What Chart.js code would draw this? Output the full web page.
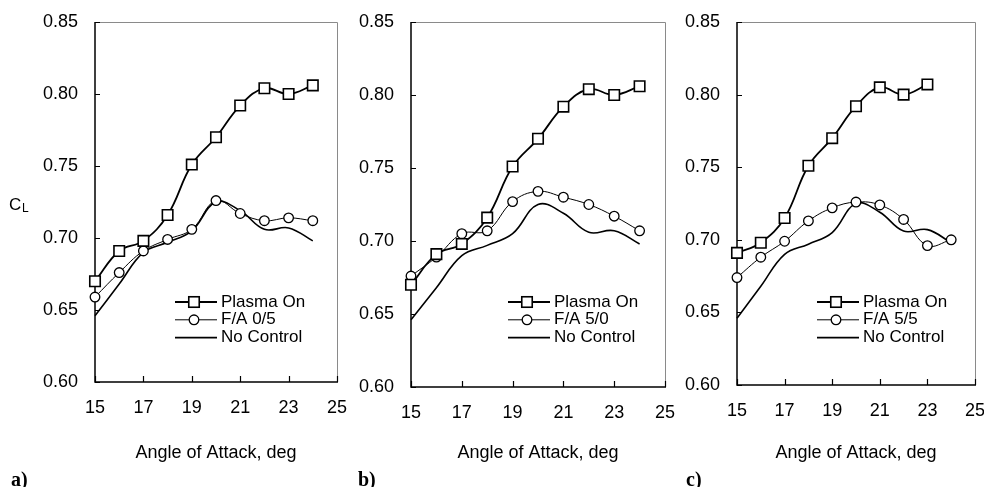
<!DOCTYPE html>
<html>
<head>
<meta charset="utf-8">
<script src="https://cdn.jsdelivr.net/npm/chart.js@4.4.0/dist/chart.umd.min.js"></script>
<style>
  html, body { margin: 0; padding: 0; background: #fff; overflow: hidden; }
  #wrap { position: relative; width: 984px; height: 487px; }
  canvas { position: absolute; top: 0; }
  .panel-tag { position: absolute; top: 469px; font: bold 20px/20px "Liberation Serif", "Times New Roman", serif; color: #000; }
  .cl { position: absolute; font-family: "Liberation Sans", Arial, sans-serif; color: #000; }
</style>
</head>
<body>
<div id="wrap">
  <canvas id="chartA" width="349" height="487" style="left:0px;width:349px;height:487px"></canvas>
  <canvas id="chartB" width="332" height="487" style="left:345px;width:332px;height:487px"></canvas>
  <canvas id="chartC" width="317" height="487" style="left:670px;width:317px;height:487px"></canvas>
  <span class="cl" style="left:9px;top:196px;font-size:17px;line-height:17px">C</span>
  <span class="cl" style="left:22px;top:202px;font-size:12px;line-height:12px">L</span>
  <div class="panel-tag" style="left:11px">a)</div>
  <div class="panel-tag" style="left:358px">b)</div>
  <div class="panel-tag" style="left:686px">c)</div>
</div>
<script>
// angle of attack (deg) and lift coefficient readings
const angles = [15, 16, 17, 18, 19, 20, 21, 22, 23, 24];
const anglesC = [15, 16, 17, 18, 19, 20, 21, 22, 23];

const plasmaOn  = [0.670, 0.691, 0.698, 0.716, 0.751, 0.770, 0.792, 0.804, 0.800, 0.806];
const plasmaOnC = [0.691, 0.698, 0.715, 0.751, 0.770, 0.792, 0.805, 0.800, 0.807];
const noControl = [0.646, 0.668, 0.690, 0.697, 0.705, 0.725, 0.719, 0.706, 0.707, 0.698];
const fa05 = [0.659, 0.676, 0.691, 0.699, 0.706, 0.726, 0.717, 0.712, 0.714, 0.712];
const fa50 = [0.676, 0.689, 0.705, 0.707, 0.727, 0.734, 0.730, 0.725, 0.717, 0.707];
const fa55 = [0.674, 0.688, 0.699, 0.713, 0.722, 0.726, 0.724, 0.714, 0.696, 0.700];

const xTicks = [15, 17, 19, 21, 23, 25];
const yTicks = [0.60, 0.65, 0.70, 0.75, 0.80, 0.85];

const FONT = '"Liberation Sans", Arial, Helvetica, sans-serif';
const INK = '#000';

function pts(xs, ys) {
  return ys.map((y, i) => ({ x: xs[i], y: y }));
}

// box around the plot: dark left/bottom axes, grey top/right, inward ticks
const framePlugin = {
  id: 'frame',
  beforeDatasetsDraw(chart) {
    const { ctx, chartArea: a, scales } = chart;
    ctx.save();
    ctx.strokeStyle = '#8a8a8a';
    ctx.lineWidth = 1;
    ctx.beginPath();
    ctx.moveTo(a.left, a.top + 0.5);
    ctx.lineTo(a.right + 0.5, a.top + 0.5);
    ctx.lineTo(a.right + 0.5, a.bottom);
    ctx.stroke();

    ctx.strokeStyle = INK;
    ctx.lineWidth = 1.5;
    ctx.beginPath();
    ctx.moveTo(a.left, a.top);
    ctx.lineTo(a.left, a.bottom);
    ctx.lineTo(a.right + 1, a.bottom);
    ctx.stroke();

    ctx.lineWidth = 1.2;
    ctx.beginPath();
    scales.y.ticks.forEach(t => {
      const py = Math.round(scales.y.getPixelForValue(t.value)) + 0.5;
      ctx.moveTo(a.left, py);
      ctx.lineTo(a.left + 5, py);
    });
    scales.x.ticks.forEach(t => {
      const px = Math.round(scales.x.getPixelForValue(t.value)) + 0.5;
      ctx.moveTo(px, a.bottom);
      ctx.lineTo(px, a.bottom - 6);
    });
    ctx.stroke();
    ctx.restore();
  }
};

// legend drawn inside the plot, lower right
const innerLegend = {
  id: 'innerLegend',
  afterDatasetsDraw(chart, args, opts) {
    const { ctx, chartArea: a } = chart;
    const x0 = a.left + opts.x;
    let y = a.top + opts.y;
    ctx.save();
    ctx.font = '17px ' + FONT;
    ctx.textBaseline = 'middle';
    ctx.textAlign = 'left';
    chart.data.datasets.forEach(ds => {
      ctx.strokeStyle = INK;
      ctx.lineWidth = ds.borderWidth;
      ctx.beginPath();
      ctx.moveTo(x0, y);
      ctx.lineTo(x0 + 42, y);
      ctx.stroke();
      const cx = x0 + 19;
      ctx.lineWidth = ds.pointBorderWidth;
      ctx.fillStyle = '#fff';
      if (ds.pointStyle === 'rect' && ds.pointRadius > 0) {
        const h = ds.pointRadius * Math.SQRT1_2;
        ctx.fillRect(cx - h, y - h, 2 * h, 2 * h);
        ctx.strokeRect(cx - h, y - h, 2 * h, 2 * h);
      } else if (ds.pointStyle === 'circle' && ds.pointRadius > 0) {
        ctx.beginPath();
        ctx.arc(cx, y, ds.pointRadius, 0, Math.PI * 2);
        ctx.fill();
        ctx.stroke();
      }
      ctx.fillStyle = INK;
      ctx.fillText(ds.label, x0 + 46, y);
      y += 17.8;
    });
    ctx.restore();
  }
};

function makeChart(canvasId, cfg) {
  const datasets = [
    {
      label: 'Plasma On',
      data: pts(cfg.plasmaX, cfg.plasma),
      borderColor: INK, borderWidth: 1.8,
      pointStyle: 'rect', pointRadius: 7.4, pointBorderWidth: 1.6,
      pointBackgroundColor: '#fff', pointBorderColor: INK,
      tension: 0.4, clip: false
    },
    {
      label: cfg.faLabel,
      data: pts(angles, cfg.fa),
      borderColor: INK, borderWidth: 1,
      pointStyle: 'circle', pointRadius: 4.8, pointBorderWidth: 1.3,
      pointBackgroundColor: '#fff', pointBorderColor: INK,
      tension: 0.4, clip: false
    },
    {
      label: 'No Control',
      data: pts(angles, noControl),
      borderColor: INK, borderWidth: 1.6,
      pointStyle: 'circle', pointRadius: 0, pointBorderWidth: 0,
      tension: 0.4, clip: false
    }
  ];

  return new Chart(document.getElementById(canvasId), {
    type: 'line',
    data: { datasets: datasets },
    options: {
      responsive: false,
      animation: false,
      events: [],
      layout: { padding: { top: 22, right: 12, bottom: 0, left: 0 } },
      plugins: {
        legend: { display: false },
        tooltip: { enabled: false },
        innerLegend: { x: cfg.legendX, y: 280 }
      },
      scales: {
        x: {
          type: 'linear', min: 15, max: 25,
          afterBuildTicks: s => { s.ticks = xTicks.map(v => ({ value: v })); },
          afterFit: s => { s.height = cfg.xHeight; },
          grid: { display: false, drawTicks: true, tickLength: 15 },
          border: { display: false },
          ticks: { padding: 0, color: INK, font: { family: FONT, size: 18 }, maxRotation: 0, callback: v => String(v) },
          title: {
            display: true, text: 'Angle of Attack, deg', color: INK,
            font: { family: FONT, size: 18 }, padding: { top: 0, bottom: 23 }
          }
        },
        y: {
          type: 'linear', min: 0.6, max: 0.85,
          afterBuildTicks: s => { s.ticks = yTicks.map(v => ({ value: v })); },
          afterFit: s => { s.width = cfg.yWidth; },
          grid: { display: false, drawTicks: true, tickLength: 17 },
          border: { display: false },
          ticks: { padding: 0, color: INK, font: { family: FONT, size: 18 }, callback: v => Number(v).toFixed(2) }
        }
      }
    },
    plugins: [framePlugin, innerLegend]
  });
}

makeChart('chartA', { plasmaX: angles, plasma: plasmaOn, fa: fa05, faLabel: 'F/A 0/5', yWidth: 95, xHeight: 105, legendX: 80 });
makeChart('chartB', { plasmaX: angles, plasma: plasmaOn, fa: fa50, faLabel: 'F/A 5/0', yWidth: 66, xHeight: 100, legendX: 97 });
makeChart('chartC', { plasmaX: anglesC, plasma: plasmaOnC, fa: fa55, faLabel: 'F/A 5/5', yWidth: 67, xHeight: 102, legendX: 80 });
</script>
</body>
</html>
